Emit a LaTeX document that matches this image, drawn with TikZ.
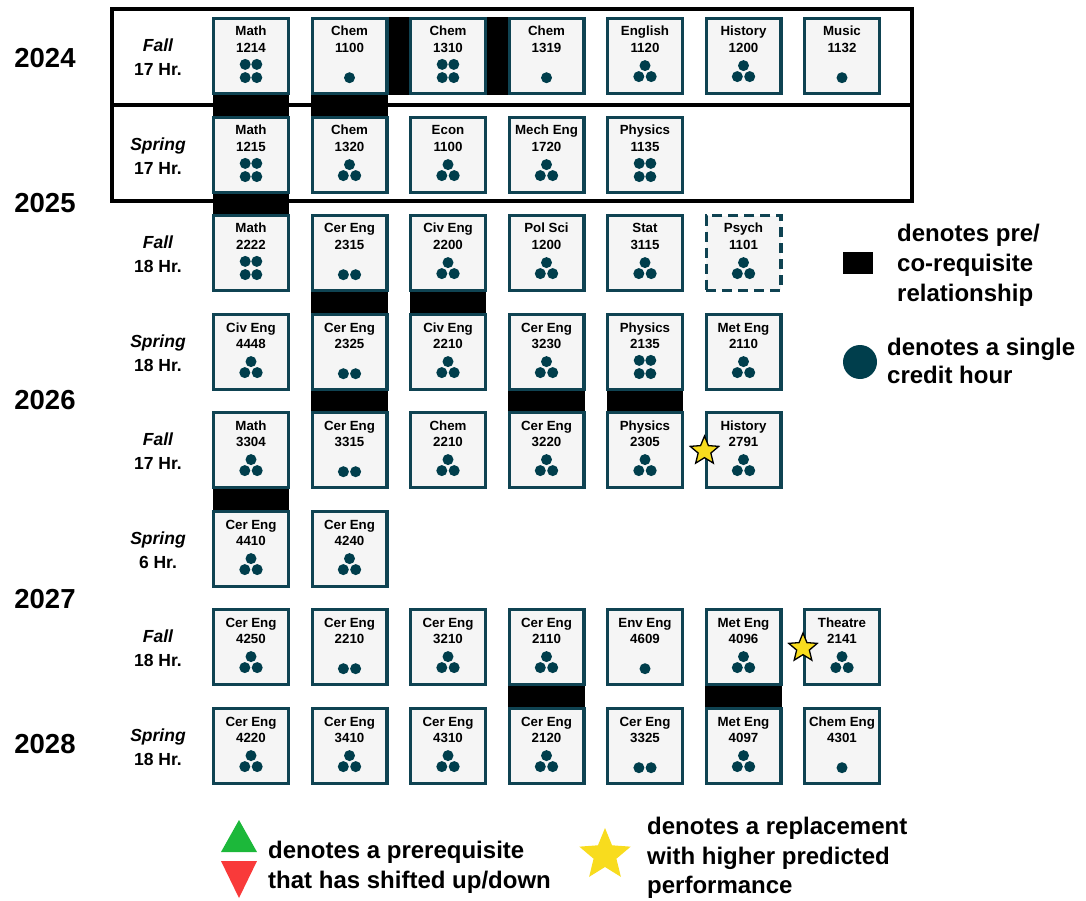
\documentclass[tikz,border=0pt]{standalone}
\usepackage{fontspec}
\setmainfont{Liberation Sans}
\usetikzlibrary{shapes.geometric,backgrounds}

\definecolor{boxedge}{HTML}{0F4352}
\definecolor{boxfill}{HTML}{F5F5F5}
\definecolor{dotcol}{HTML}{003E4C}
\definecolor{staryellow}{HTML}{F8DC1E}
\definecolor{upgreen}{HTML}{1CB83A}
\definecolor{downred}{HTML}{F93A3A}

\tikzset{
  coursebox/.style={draw=boxedge, fill=boxfill, line width=3.3pt, minimum size=74.7pt, inner sep=0pt},
  coursetext/.style={font=\fontsize{13.3}{15}\selectfont\bfseries, anchor=base, inner sep=0pt},
  credit/.style={fill=dotcol},
  req/.style={fill=black},
  yearframe/.style={draw=black, line width=3.2pt},
  yearlabel/.style={font=\fontsize{27.5}{30}\selectfont\bfseries, inner sep=0pt},
  termlabel/.style={font=\fontsize{17.5}{20}\selectfont\bfseries, anchor=base, inner sep=0pt},
  legendtext/.style={font=\fontsize{24}{29.5}\selectfont\bfseries, anchor=base west, inner sep=0pt},
  swapstar/.style={star, star points=5, star point ratio=2.25, fill=staryellow, inner sep=0pt},
}

% credit-hour dots under a course box centred at (#1,#2)
\newcommand\credits[3]{%
  \ifcase#3\or
    \fill[credit] (#1,#2+21.7) circle[radius=5.5pt];
  \or
    \fill[credit] (#1-6.1,#2+21.7) circle[radius=5.5pt] (#1+6.1,#2+21.7) circle[radius=5.5pt];
  \or
    \fill[credit] (#1,#2+9.6) circle[radius=5.5pt]
                  (#1-6.2,#2+20.6) circle[radius=5.5pt] (#1+6.2,#2+20.6) circle[radius=5.5pt];
  \or
    \fill[credit] (#1-5.8,#2+8.4) circle[radius=5.5pt] (#1+5.8,#2+8.4) circle[radius=5.5pt]
                  (#1-5.8,#2+21.6) circle[radius=5.5pt] (#1+5.8,#2+21.6) circle[radius=5.5pt];
  \fi}

% [extra style] name, x, y, subject, number, credit hours
\newcommand\course[7][]{%
  \node[coursebox,#1] (#2) at (#3,#4) {};
  \node[coursetext] (#2-subj) at (#3,#4-20) {#5};
  \node[coursetext] (#2-num) at (#3,#4-3.4) {#6};
  \credits{#3}{#4}{#7}}

% semester heading: name, row centre, season, hours
\newcommand\term[4]{%
  \node[termlabel] (#1-season) at (158,#2-4.5) {\itshape #3};
  \node[termlabel] (#1-hours) at (158,#2+19.5) {#4};}

% vertical pre-requisite bar between two stacked boxes
\newcommand\prereq[2]{\fill[req] ([xshift=0.6pt]#1.south west) rectangle ([xshift=-0.6pt]#2.north east);}
% horizontal co-requisite bar between two neighbouring boxes
\newcommand\coreq[2]{\fill[req] (#1.north east) rectangle (#2.south west);}

\begin{document}
\begin{tikzpicture}[x=1pt,y=-1pt]
\useasboundingbox (0,0) rectangle (1086,901);

% first-year frame
\draw[yearframe] (112,9) rectangle (912,105);
\draw[yearframe] (112,105) rectangle (912,201);

% years
\node[yearlabel] (y2024) at (45,58.5) {2024};
\node[yearlabel] (y2025) at (45,203) {2025};
\node[yearlabel] (y2026) at (45,400) {2026};
\node[yearlabel] (y2027) at (45,599) {2027};
\node[yearlabel] (y2028) at (45,744) {2028};

% semesters
\term{t1}{56}{Fall}{17 Hr.}
\term{t2}{155}{Spring}{17 Hr.}
\term{t3}{253}{Fall}{18 Hr.}
\term{t4}{352}{Spring}{18 Hr.}
\term{t5}{450}{Fall}{17 Hr.}
\term{t6}{549}{Spring}{6 Hr.}
\term{t7}{647}{Fall}{18 Hr.}
\term{t8}{746}{Spring}{18 Hr.}

% Fall 2024
\course{math1214}{251}{56}{Math}{1214}{4}
\course{chem1100}{349.5}{56}{Chem}{1100}{1}
\course{chem1310}{448}{56}{Chem}{1310}{4}
\course{chem1319}{546.5}{56}{Chem}{1319}{1}
\course{engl1120}{645}{56}{English}{1120}{3}
\course{hist1200}{743.5}{56}{History}{1200}{3}
\course{musc1132}{842}{56}{Music}{1132}{1}

% Spring 2025
\course{math1215}{251}{155}{Math}{1215}{4}
\course{chem1320}{349.5}{155}{Chem}{1320}{3}
\course{econ1100}{448}{155}{Econ}{1100}{3}
\course{mech1720}{546.5}{155}{Mech Eng}{1720}{3}
\course{phys1135}{645}{155}{Physics}{1135}{4}

% Fall 2025
\course{math2222}{251}{253}{Math}{2222}{4}
\course{cer2315}{349.5}{253}{Cer Eng}{2315}{2}
\course{civ2200}{448}{253}{Civ Eng}{2200}{3}
\course{pols1200}{546.5}{253}{Pol Sci}{1200}{3}
\course{stat3115}{645}{253}{Stat}{3115}{3}
\course[dash pattern=on 10pt off 6pt]{psyc1101}{743.5}{253}{Psych}{1101}{3}

% Spring 2026
\course{civ4448}{251}{352}{Civ Eng}{4448}{3}
\course{cer2325}{349.5}{352}{Cer Eng}{2325}{2}
\course{civ2210}{448}{352}{Civ Eng}{2210}{3}
\course{cer3230}{546.5}{352}{Cer Eng}{3230}{3}
\course{phys2135}{645}{352}{Physics}{2135}{4}
\course{met2110}{743.5}{352}{Met Eng}{2110}{3}

% Fall 2026
\course{math3304}{251}{450}{Math}{3304}{3}
\course{cer3315}{349.5}{450}{Cer Eng}{3315}{2}
\course{chem2210}{448}{450}{Chem}{2210}{3}
\course{cer3220}{546.5}{450}{Cer Eng}{3220}{3}
\course{phys2305}{645}{450}{Physics}{2305}{3}
\course{hist2791}{743.5}{450}{History}{2791}{3}

% Spring 2027
\course{cer4410}{251}{549}{Cer Eng}{4410}{3}
\course{cer4240}{349.5}{549}{Cer Eng}{4240}{3}

% Fall 2027
\course{cer4250}{251}{647}{Cer Eng}{4250}{3}
\course{cer2210}{349.5}{647}{Cer Eng}{2210}{2}
\course{cer3210}{448}{647}{Cer Eng}{3210}{3}
\course{cer2110}{546.5}{647}{Cer Eng}{2110}{3}
\course{env4609}{645}{647}{Env Eng}{4609}{1}
\course{met4096}{743.5}{647}{Met Eng}{4096}{3}
\course{thea2141}{842}{647}{Theatre}{2141}{3}

% Spring 2028
\course{cer4220}{251}{746}{Cer Eng}{4220}{3}
\course{cer3410}{349.5}{746}{Cer Eng}{3410}{3}
\course{cer4310}{448}{746}{Cer Eng}{4310}{3}
\course{cer2120}{546.5}{746}{Cer Eng}{2120}{3}
\course{cer3325}{645}{746}{Cer Eng}{3325}{2}
\course{met4097}{743.5}{746}{Met Eng}{4097}{3}
\course{chme4301}{842}{746}{Chem Eng}{4301}{1}

% requisite links
\begin{scope}[on background layer]
  \prereq{math1214}{math1215}
  \prereq{chem1100}{chem1320}
  \coreq{chem1100}{chem1310}
  \coreq{chem1310}{chem1319}
  \prereq{math1215}{math2222}
  \prereq{cer2315}{cer2325}
  \prereq{civ2200}{civ2210}
  \prereq{cer2325}{cer3315}
  \prereq{cer3230}{cer3220}
  \prereq{phys2135}{phys2305}
  \prereq{math3304}{cer4410}
  \prereq{cer2110}{cer2120}
  \prereq{met4096}{met4097}
\end{scope}

% replacement markers
\node[swapstar, draw=black, line width=1.3pt, minimum size=30pt] (swap2791) at (hist2791.west |- 0,451) {};
\node[swapstar, draw=black, line width=1.3pt, minimum size=30pt] (swap2141) at (thea2141.west |- 0,648) {};

% legend: requisite bar and credit dot
\node[fill=black, minimum width=30pt, minimum height=22pt, inner sep=0pt] (keybar) at (858,263) {};
\node[legendtext] (keybar-1) at (897,242) {denotes pre/};
\node[legendtext] (keybar-2) at (897,271.5) {co-requisite};
\node[legendtext] (keybar-3) at (897,301) {relationship};

\node[circle, fill=dotcol, minimum size=34pt, inner sep=0pt] (keydot) at (860,362) {};
\node[legendtext] (keydot-1) at (887,355) {denotes a single};
\node[legendtext] (keydot-2) at (887,383.5) {credit hour};

% legend: shifted prerequisites
\fill[upgreen] (221,852) -- (257,852) -- (239,820) -- cycle;
\fill[downred] (221,861) -- (257,861) -- (239,898) -- cycle;
\node[legendtext] (keyshift-1) at (268,858) {denotes a prerequisite};
\node[legendtext] (keyshift-2) at (268,888) {that has shifted up/down};

% legend: replacement star
\node[swapstar, minimum size=54pt] (keystar) at (605,855) {};
\node[legendtext] (keystar-1) at (647,834) {denotes a replacement};
\node[legendtext] (keystar-2) at (647,864) {with higher predicted};
\node[legendtext] (keystar-3) at (647,893) {performance};
\end{tikzpicture}
\end{document}
